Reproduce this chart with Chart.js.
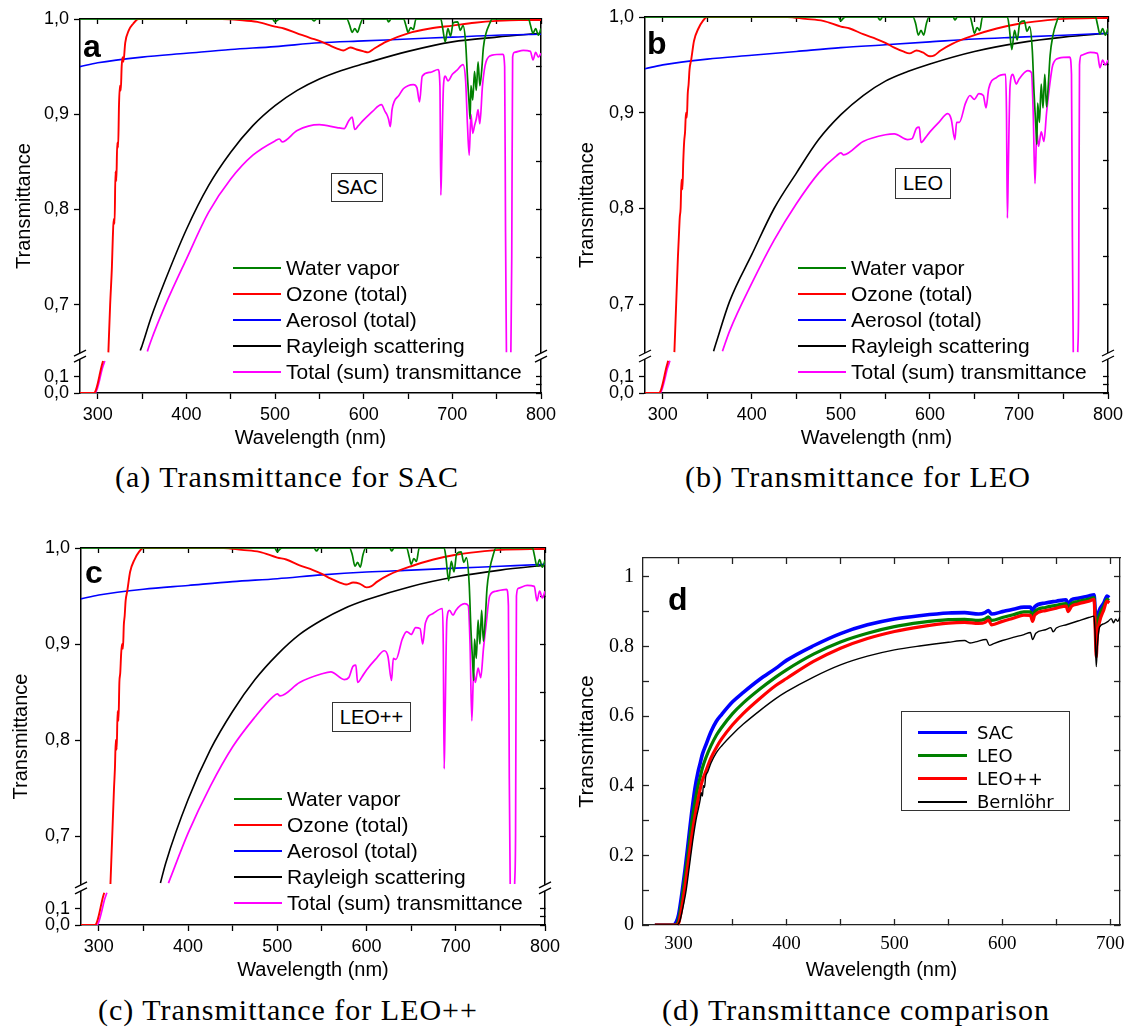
<!DOCTYPE html>
<html>
<head>
<meta charset="utf-8">
<script src="https://cdn.jsdelivr.net/npm/chart.js@4.4.1/dist/chart.umd.min.js"></script>
<style>
  html, body { margin: 0; padding: 0; background: #fff; overflow: hidden; }
  #page { position: relative; width: 1126px; height: 1030px; font-family: 'Liberation Sans', Arial, sans-serif; color: #000; }
  canvas { position: absolute; }
  .tag { position: absolute; font-weight: bold; font-size: 32px; line-height: 32px; }
  .box { position: absolute; border: 1px solid #333; font-size: 20px; text-align: center; box-sizing: border-box; background: #fff; }
  .legend { position: absolute; font-size: 21px; }
  .legend .row { display: flex; align-items: center; height: 26px; white-space: nowrap; }
  .legend .ln { display: inline-block; width: 48px; height: 2px; margin-right: 5px; }
  .dleg { position: absolute; border: 1px solid #333; box-sizing: border-box; font-family: 'DejaVu Sans', sans-serif; font-size: 18px; padding: 9px 0 0 16px; background: #fff; }
  .dleg .row { display: flex; align-items: center; height: 23px; white-space: nowrap; }
  .dleg .ln { display: inline-block; width: 49px; margin-right: 10px; }
  .cap { position: absolute; font-family: 'Liberation Serif', serif; font-size: 30px; letter-spacing: 1px; line-height: 34px; white-space: nowrap; transform: translateX(-50%); }
</style>
</head>
<body>
<div id="page">
  <canvas id="chartA" width="560" height="450" style="left:0px;top:0px"></canvas>
  <canvas id="chartB" width="566" height="450" style="left:560px;top:0px"></canvas>
  <canvas id="chartC" width="560" height="452" style="left:0px;top:530px"></canvas>
  <canvas id="chartD" width="566" height="452" style="left:560px;top:530px"></canvas>

  <div class="tag" style="left:83px;top:30px">a</div>
  <div class="tag" style="left:647px;top:27px">b</div>
  <div class="tag" style="left:85px;top:556px">c</div>
  <div class="tag" style="left:668px;top:583px">d</div>

  <div class="box" style="left:331px;top:173px;width:52px;height:29px;line-height:27px">SAC</div>
  <div class="box" style="left:895px;top:168px;width:56px;height:31px;line-height:29px">LEO</div>
  <div class="box" style="left:332px;top:702px;width:79px;height:30px;line-height:28px">LEO++</div>

  <div class="legend" id="legA" style="left:233px;top:255px"></div>
  <div class="legend" id="legB" style="left:798px;top:255px"></div>
  <div class="legend" id="legC" style="left:234px;top:786px"></div>
  <div class="dleg" id="legD" style="left:901px;top:711px;width:169px;height:100px"></div>

  <div class="cap" style="left:287px;top:460px">(a) Transmittance for SAC</div>
  <div class="cap" style="left:858px;top:460px">(b) Transmittance for LEO</div>
  <div class="cap" style="left:288px;top:993px">(c) Transmittance for LEO++</div>
  <div class="cap" style="left:856px;top:993px">(d) Transmittance comparison</div>
</div>
<script>
// ---- series: [wavelength nm, transmittance] ----

// panel a: SAC
const sacWater = [[280,1],[497,1],[500,0.997],[503,0.999],[506,1],[541,1],[544,0.998],[547,1],[581,1],[584,0.994],[587,0.986],[590,0.99],[593,0.986],[596,0.994],[599,1],[626,1],[628,0.997],[631,1],[645,1],[648,0.992],[650,0.986],[653,0.991],[656,0.989],[659,1],[687,1],[689,0.991],[692,0.976],[695,0.99],[698,0.982],[701,0.996],[706,0.997],[709,0.988],[712,0.993],[715,0.975],[717,0.94],[719,0.91],[720,0.895],[721,0.93],[723,0.915],[725,0.945],[727,0.925],[729,0.955],[731,0.93],[733,0.945],[735,0.97],[738,0.985],[742,0.995],[745,1],[786,1],[788,0.994],[791,0.985],[794,0.99],[797,0.983],[800,0.99]];
const sacOzone = [[280,0],[296,0],[298,0.02],[300,0.06],[302,0.11],[304,0.16],[306,0.2],[309,null],[312,0.65],[314,0.7],[316,0.74],[317,0.77],[318,0.79],[319,0.785],[320,0.84],[321,0.83],[322,0.87],[323,0.865],[324,0.91],[325,0.93],[326,0.925],[327,0.95],[328,0.96],[329,0.955],[331,0.975],[335,0.988],[340,0.995],[346,1],[440,1],[460,0.999],[480,0.997],[500,0.992],[510,0.99],[525,0.985],[540,0.98],[550,0.977],[560,0.973],[570,0.969],[577,0.967],[585,0.97],[592,0.968],[600,0.966],[605,0.965],[612,0.969],[625,0.976],[650,0.985],[675,0.99],[700,0.993],[725,0.996],[750,0.998],[775,0.999],[800,0.999]];
const sacAerosol = [[280,0.95],[300,0.954],[350,0.96],[400,0.964],[450,0.968],[500,0.971],[550,0.975],[600,0.977],[650,0.979],[700,0.981],[750,0.983],[800,0.984]];
const sacRayleigh = [[348,0.652],[350,0.657],[360,0.686],[375,0.723],[400,0.779],[425,0.825],[450,0.86],[475,0.888],[500,0.909],[525,0.925],[550,0.937],[575,0.946],[600,0.953],[650,0.966],[700,0.976],[750,0.981],[800,0.985]];
const sacTotal = [[280,0],[297,0],[299,0.02],[302,0.08],[305,0.15],[308,0.2],[310,null],[356,0.651],[360,0.662],[375,0.697],[400,0.748],[425,0.797],[450,0.832],[475,0.857],[500,0.872],[505,0.874],[508,0.871],[525,0.883],[550,0.889],[570,0.886],[578,0.885],[583,0.893],[587,0.897],[590,0.884],[594,0.888],[600,0.894],[610,0.903],[620,0.91],[624,0.903],[626,0.9],[628,0.895],[630,0.887],[632,0.905],[640,0.92],[645,0.927],[650,0.93],[656,0.931],[660,0.928],[663,0.913],[666,0.94],[675,0.944],[684,0.947],[686,0.93],[687,0.815],[688,0.85],[690,0.93],[692,0.94],[695,0.935],[700,0.942],[705,0.946],[712,0.952],[715,0.935],[717,0.89],[719,0.857],[721,0.9],[723,0.88],[725,0.888],[727,0.895],[729,0.905],[731,0.89],[734,0.93],[738,0.955],[745,0.962],[757,0.963],[759,0.95],[760,0.776],[761,0.65],[762,null],[765,null],[766,0.65],[767,0.75],[768,0.96],[770,0.965],[780,0.967],[788,0.966],[791,0.957],[794,0.965],[797,0.96],[800,0.964]];

// panel b: LEO
const leoWater = [[280,1],[497,1],[500,0.996],[503,0.999],[506,1],[541,1],[544,0.997],[547,1],[581,1],[584,0.993],[587,0.981],[590,0.986],[593,0.981],[596,0.993],[599,1],[626,1],[628,0.997],[631,1],[645,1],[648,0.99],[650,0.983],[653,0.989],[656,0.986],[659,1],[687,1],[689,0.99],[692,0.966],[695,0.986],[698,0.976],[701,0.994],[706,0.996],[709,0.985],[712,0.99],[715,0.965],[717,0.92],[719,0.885],[720,0.867],[721,0.91],[723,0.89],[725,0.93],[727,0.905],[729,0.94],[731,0.906],[733,0.93],[735,0.96],[738,0.98],[742,0.994],[745,1],[786,1],[788,0.993],[791,0.982],[794,0.988],[797,0.981],[800,0.988]];
const leoOzone = [[280,0],[296,0],[298,0.02],[300,0.06],[302,0.11],[304,0.16],[306,0.2],[309,null],[313,0.65],[315,0.7],[317,0.75],[318,0.77],[319,0.79],[320,0.8],[321,0.83],[322,0.82],[323,0.85],[324,0.87],[325,0.88],[326,0.9],[327,0.895],[328,0.92],[329,0.93],[330,0.945],[332,0.956],[335,0.975],[340,0.988],[345,0.996],[350,1],[440,1],[460,0.998],[480,0.996],[500,0.99],[510,0.988],[525,0.982],[540,0.977],[550,0.973],[560,0.968],[570,0.964],[577,0.962],[585,0.965],[592,0.963],[600,0.959],[605,0.96],[612,0.965],[625,0.972],[650,0.981],[675,0.988],[700,0.993],[725,0.996],[750,0.998],[800,0.999]];
const leoAerosol = [[280,0.946],[300,0.95],[350,0.956],[400,0.96],[450,0.964],[500,0.968],[550,0.971],[600,0.974],[650,0.977],[700,0.979],[750,0.981],[800,0.983]];
const leoRayleigh = [[357,0.651],[360,0.66],[375,0.703],[400,0.752],[425,0.8],[450,0.837],[475,0.872],[500,0.898],[525,0.918],[550,0.933],[575,0.943],[600,0.951],[650,0.964],[700,0.973],[750,0.979],[800,0.983]];
const leoTotal = [[280,0],[297,0],[299,0.02],[302,0.08],[305,0.15],[308,0.2],[310,null],[367,0.651],[375,0.672],[400,0.722],[425,0.767],[450,0.805],[475,0.837],[495,0.855],[500,0.858],[503,0.856],[525,0.87],[550,0.877],[560,0.878],[575,0.872],[580,0.873],[585,0.884],[588,0.885],[590,0.869],[595,0.874],[600,0.88],[610,0.89],[620,0.899],[624,0.893],[628,0.872],[630,0.89],[633,0.89],[640,0.91],[645,0.918],[650,0.914],[655,0.92],[660,0.918],[663,0.905],[666,0.925],[675,0.937],[685,0.94],[686,0.9],[687,0.79],[688,0.84],[690,0.928],[693,0.94],[697,0.93],[700,0.935],[710,0.944],[714,0.942],[716,0.9],[718,0.826],[720,0.88],[722,0.865],[725,0.88],[728,0.87],[731,0.9],[734,0.925],[738,0.95],[745,0.957],[757,0.958],[759,0.94],[760,0.77],[761,0.65],[762,null],[765,null],[766,0.65],[767,0.7],[768,0.95],[770,0.96],[780,0.963],[788,0.962],[791,0.947],[794,0.955],[797,0.95],[800,0.955]];

// panel c: LEO++
const pppWater = [[280,1],[497,1],[500,0.996],[503,0.999],[506,1],[541,1],[544,0.997],[547,1],[581,1],[584,0.993],[587,0.981],[590,0.985],[593,0.98],[596,0.993],[599,1],[626,1],[628,0.997],[631,1],[645,1],[648,0.99],[650,0.983],[653,0.989],[656,0.986],[659,1],[687,1],[689,0.99],[692,0.966],[695,0.986],[698,0.975],[701,0.994],[706,0.996],[709,0.985],[712,0.99],[715,0.963],[717,0.915],[719,0.88],[720,0.862],[721,0.905],[723,0.885],[725,0.925],[727,0.9],[729,0.935],[731,0.903],[733,0.925],[735,0.958],[738,0.978],[742,0.993],[745,1],[786,1],[788,0.993],[791,0.981],[794,0.988],[797,0.98],[800,0.987]];
const pppOzone = [[280,0],[296,0],[298,0.02],[300,0.06],[302,0.11],[304,0.16],[306,0.2],[309,null],[313,0.65],[315,0.7],[317,0.75],[318,0.77],[319,0.8],[320,0.79],[321,0.83],[322,0.82],[323,0.86],[324,0.87],[325,0.89],[326,0.9],[327,0.895],[328,0.92],[329,0.93],[330,0.945],[332,0.956],[335,0.975],[340,0.988],[345,0.996],[350,1],[440,1],[460,0.998],[480,0.996],[500,0.99],[510,0.988],[525,0.982],[540,0.977],[550,0.973],[560,0.968],[570,0.964],[577,0.962],[585,0.964],[592,0.963],[600,0.959],[605,0.96],[612,0.965],[625,0.972],[650,0.981],[675,0.988],[700,0.993],[725,0.996],[750,0.998],[800,0.999]];
const pppAerosol = [[280,0.947],[300,0.951],[350,0.957],[400,0.961],[450,0.965],[500,0.968],[550,0.972],[600,0.975],[650,0.977],[700,0.979],[750,0.981],[800,0.983]];
const pppRayleigh = [[369,0.651],[375,0.672],[400,0.738],[425,0.79],[450,0.83],[475,0.863],[500,0.889],[525,0.91],[550,0.925],[575,0.937],[600,0.946],[650,0.96],[700,0.97],[750,0.977],[800,0.982]];
const pppTotal = [[280,0],[298,0],[300,0.02],[303,0.08],[306,0.15],[309,0.2],[311,null],[378,0.651],[400,0.703],[425,0.752],[450,0.793],[475,0.824],[495,0.845],[500,0.848],[503,0.846],[525,0.86],[550,0.869],[560,0.871],[575,0.863],[580,0.865],[585,0.877],[588,0.878],[590,0.86],[595,0.866],[600,0.873],[610,0.884],[620,0.893],[624,0.887],[628,0.862],[630,0.885],[633,0.884],[640,0.905],[645,0.913],[650,0.91],[655,0.917],[660,0.916],[663,0.9],[666,0.922],[675,0.932],[685,0.937],[686,0.9],[687,0.77],[688,0.82],[690,0.925],[693,0.935],[697,0.93],[700,0.935],[710,0.942],[714,0.94],[716,0.9],[718,0.82],[720,0.87],[722,0.86],[725,0.875],[728,0.865],[731,0.895],[734,0.92],[738,0.95],[745,0.955],[757,0.957],[759,0.94],[760,0.76],[761,0.65],[762,null],[765,null],[766,0.65],[767,0.7],[768,0.95],[770,0.958],[780,0.961],[788,0.96],[791,0.945],[794,0.955],[797,0.948],[800,0.955]];

// panel d: comparison
const cmpSac = [[278,0],[295,0],[298,0.01],[300,0.03],[303,0.09],[306,0.16],[309,0.24],[312,0.32],[315,0.39],[318,0.44],[320,0.465],[322,0.49],[325,0.515],[330,0.555],[335,0.585],[340,0.605],[350,0.641],[360,0.668],[375,0.705],[390,0.737],[400,0.76],[425,0.802],[450,0.837],[475,0.862],[500,0.879],[525,0.889],[550,0.896],[565,0.897],[578,0.893],[584,0.897],[587,0.903],[590,0.893],[600,0.9],[610,0.907],[620,0.913],[626,0.913],[628,0.902],[630,0.914],[640,0.925],[650,0.93],[659,0.934],[661,0.922],[664,0.934],[670,0.938],[680,0.945],[685,0.948],[686,0.9],[687,0.84],[688,0.88],[690,0.905],[694,0.925],[697,0.945],[699,0.94]];
const cmpLeo = [[278,0],[297,0],[300,0.015],[303,0.07],[306,0.14],[309,0.21],[312,0.29],[315,0.35],[318,0.4],[320,0.425],[322,0.45],[325,0.478],[330,0.515],[335,0.545],[340,0.568],[350,0.607],[360,0.638],[375,0.677],[390,0.712],[400,0.733],[425,0.778],[450,0.813],[475,0.838],[500,0.857],[525,0.869],[550,0.877],[565,0.878],[578,0.875],[584,0.879],[587,0.885],[590,0.875],[600,0.883],[610,0.891],[620,0.899],[626,0.899],[628,0.887],[630,0.9],[640,0.912],[650,0.918],[659,0.923],[661,0.911],[664,0.923],[670,0.929],[680,0.936],[685,0.94],[686,0.88],[687,0.81],[688,0.86],[690,0.89],[694,0.915],[697,0.935],[699,0.932]];
const cmpLeoPP = [[278,0],[298,0],[300,0.005],[303,0.05],[306,0.11],[309,0.18],[312,0.25],[315,0.31],[318,0.36],[320,0.39],[322,0.415],[325,0.44],[330,0.48],[335,0.51],[340,0.535],[350,0.575],[360,0.608],[375,0.65],[390,0.688],[400,0.708],[425,0.757],[450,0.795],[475,0.823],[500,0.843],[525,0.857],[550,0.867],[565,0.869],[578,0.866],[584,0.869],[587,0.876],[590,0.862],[600,0.872],[610,0.881],[620,0.89],[626,0.889],[628,0.872],[630,0.89],[640,0.903],[650,0.91],[659,0.916],[661,0.9],[664,0.915],[670,0.922],[680,0.93],[685,0.935],[686,0.85],[687,0.77],[688,0.83],[690,0.87],[694,0.905],[697,0.93],[699,0.925]];
const cmpBernlohr = [[278,0],[298,0],[301,0.01],[304,0.05],[307,0.1],[310,0.17],[313,0.24],[316,0.3],[318,0.33],[320,0.36],[321,0.38],[322,0.37],[323,0.4],[324,0.395],[325,0.425],[327,0.44],[330,0.465],[335,0.495],[340,0.515],[350,0.548],[360,0.577],[375,0.615],[390,0.65],[400,0.67],[425,0.712],[450,0.747],[475,0.772],[500,0.79],[525,0.802],[550,0.812],[565,0.817],[570,0.81],[575,0.813],[585,0.82],[588,0.803],[592,0.808],[600,0.817],[610,0.826],[620,0.834],[626,0.84],[628,0.82],[631,0.838],[640,0.848],[645,0.854],[647,0.842],[650,0.853],[660,0.863],[670,0.873],[680,0.883],[685,0.887],[686,0.83],[687,0.742],[688,0.8],[690,0.855],[694,0.865],[698,0.872],[701,0.88],[703,0.868],[705,0.878],[707,0.872],[709,0.885]];

// ---- ticks ----
const xTicksABC = [300, 350, 400, 450, 500, 550, 600, 650, 700, 750, 800];
const yTicksABC = [0, 0.1, 0.7, 0.8, 0.9, 1.0];
const yTickLabelsABC = ['0,0', '0,1', '0,7', '0,8', '0,9', '1,0'];
const yMinorABC = [0, 0.05, 0.1, 0.7, 0.75, 0.8, 0.85, 0.9, 0.95, 1.0];
const xTicksD = [300, 350, 400, 450, 500, 550, 600, 650, 700];
const yTicksD = [0, 0.1, 0.2, 0.3, 0.4, 0.5, 0.6, 0.7, 0.8, 0.9, 1.0];
const yTickLabelsD = ['0', '', '0.2', '', '0.4', '', '0.6', '', '0.8', '', '1'];

const legendNames = ['Water vapor', 'Ozone (total)', 'Aerosol (total)', 'Rayleigh scattering', 'Total (sum) transmittance'];
const legendColors = ['#008000', '#ff0000', '#0000ff', '#000000', '#ff00ff'];
const cmpNames = ['SAC', 'LEO', 'LEO++', 'Bernlöhr'];
const cmpColors = ['#0000ff', '#008000', '#ff0000', '#000000'];

const SANS = "'Liberation Sans', Arial, sans-serif";
const SERIF = "'Liberation Serif', 'Times New Roman', serif";

// broken y axis: 0..0.254 squeezed under the break, 0.65..1 at full scale
const BREAK_LO = 0.254, BREAK_HI = 0.65, SQUEEZE = 0.168;
function toAxis(v) {
  if (v === null) return null;
  if (v >= BREAK_HI) return v;
  if (v <= BREAK_LO) return BREAK_HI - (BREAK_LO - v) * SQUEEZE;
  return null;
}
const AXIS_BOTTOM = toAxis(0);

function fixSize(size) {
  return s => {
    if (s.isHorizontal()) s.height = size; else s.width = size;
    s.paddingLeft = s.paddingRight = s.paddingTop = s.paddingBottom = 0;
  };
}
function setTicks(list, map) {
  return s => { s.ticks = list.map(v => ({value: map ? map(v) : v})); };
}

const breakMarks = {
  id: 'breakMarks',
  afterDraw(chart) {
    const ctx = chart.ctx;
    const y = chart.scales.y.getPixelForValue(BREAK_HI - 0.004);
    [chart.chartArea.left, chart.chartArea.right].forEach(x => {
      ctx.save();
      ctx.fillStyle = '#fff';
      ctx.fillRect(x - 2, y - 3, 4, 6);
      ctx.strokeStyle = '#000';
      ctx.lineWidth = 1.3;
      [-3, 3].forEach(off => {
        ctx.beginPath();
        ctx.moveTo(x - 6, y + off + 3);
        ctx.lineTo(x + 6, y + off - 3);
        ctx.stroke();
      });
      ctx.restore();
    });
  }
};

function breakChart(id, series, g) {
  const frame = {display: true, color: '#000', width: 1.5};
  const tickFont = {family: SANS, size: 18};
  const widths = [1.7, 1.9, 1.6, 1.6, 1.7];
  const sets = series.map((pts, i) => ({
    data: pts.map(p => ({x: p[0], y: toAxis(p[1])})),
    borderColor: legendColors[i], borderWidth: widths[i],
    pointRadius: 0, spanGaps: false, fill: false,
    cubicInterpolationMode: 'monotone'
  }));
  new Chart(document.getElementById(id), {
    type: 'line',
    data: {datasets: sets},
    options: {
      responsive: false, animation: false, devicePixelRatio: 1, events: [],
      layout: {padding: 0},
      plugins: {legend: {display: false}, tooltip: {enabled: false}},
      scales: {
        x: {
          type: 'linear', position: 'bottom', min: 280, max: 800,
          afterBuildTicks: setTicks(xTicksABC), afterFit: fixSize(g.bottom),
          grid: {drawOnChartArea: false, tickLength: 6, color: '#000', tickWidth: 1.3},
          border: frame,
          ticks: {autoSkip: false, maxRotation: 0, padding: 5, color: '#000', font: tickFont,
                  callback: v => (v % 100 === 0 ? String(v) : '')},
          title: {display: true, text: 'Wavelength (nm)', color: '#000', font: {family: SANS, size: 20}, padding: 0}
        },
        x2: {
          type: 'linear', position: 'top', min: 280, max: 800,
          afterBuildTicks: setTicks(xTicksABC), afterFit: fixSize(g.top),
          grid: {drawOnChartArea: false, tickLength: -5, color: '#000', tickWidth: 1.3},
          border: frame, ticks: {display: false}
        },
        y: {
          type: 'linear', position: 'left', min: AXIS_BOTTOM, max: 1,
          afterBuildTicks: setTicks(yTicksABC, toAxis), afterFit: fixSize(g.left),
          grid: {drawOnChartArea: false, tickLength: 6, color: '#000', tickWidth: 1.3},
          border: frame,
          ticks: {autoSkip: false, padding: 5, color: '#000', font: tickFont,
                  callback: (v, i) => yTickLabelsABC[i]},
          title: {display: true, text: 'Transmittance', color: '#000', font: {family: SANS, size: 20},
                  padding: {top: g.titlePad, bottom: 0}}
        },
        y2: {
          type: 'linear', position: 'right', min: AXIS_BOTTOM, max: 1,
          afterBuildTicks: setTicks(yMinorABC, toAxis), afterFit: fixSize(g.right),
          grid: {drawOnChartArea: false, tickLength: -5, color: '#000', tickWidth: 1.3},
          border: frame, ticks: {display: false}
        }
      }
    },
    plugins: [breakMarks]
  });
}

function compareChart(id, series) {
  const frame = {display: true, color: '#222', width: 1.3};
  const widths = [3.6, 3.2, 3.2, 1.4];
  // black drawn on top, blue at the bottom
  const sets = series.map((pts, i) => ({
    data: pts.map(p => ({x: p[0], y: p[1]})),
    borderColor: cmpColors[i], borderWidth: widths[i],
    pointRadius: 0, fill: false, order: 3 - i,
    cubicInterpolationMode: 'monotone'
  }));
  new Chart(document.getElementById(id), {
    type: 'line',
    data: {datasets: sets},
    options: {
      responsive: false, animation: false, devicePixelRatio: 1, events: [],
      layout: {padding: 0},
      plugins: {legend: {display: false}, tooltip: {enabled: false}},
      scales: {
        x: {
          type: 'linear', position: 'bottom', min: 267, max: 709,
          afterBuildTicks: setTicks(xTicksD), afterFit: fixSize(57),
          grid: {drawOnChartArea: false, tickLength: -6, color: '#222', tickWidth: 1.3},
          border: frame,
          ticks: {autoSkip: false, maxRotation: 0, padding: 14, color: '#000', font: {family: SERIF, size: 19},
                  callback: v => (v % 100 === 0 ? String(v) : '')},
          title: {display: true, text: 'Wavelength (nm)', color: '#000', font: {family: SANS, size: 20}, padding: 0}
        },
        x2: {
          type: 'linear', position: 'top', min: 267, max: 709,
          afterBuildTicks: setTicks(xTicksD), afterFit: fixSize(28),
          grid: {drawOnChartArea: false, tickLength: -6, color: '#222', tickWidth: 1.3},
          border: frame, ticks: {display: false}
        },
        y: {
          type: 'linear', position: 'left', min: 0, max: 1.054,
          afterBuildTicks: setTicks(yTicksD), afterFit: fixSize(83),
          grid: {drawOnChartArea: false, tickLength: -6, color: '#222', tickWidth: 1.3},
          border: frame,
          ticks: {autoSkip: false, padding: 15, color: '#000', font: {family: SERIF, size: 20},
                  callback: (v, i) => yTickLabelsD[i]},
          title: {display: true, text: 'Transmittance', color: '#000', font: {family: SANS, size: 21},
                  padding: {top: 15, bottom: 0}}
        },
        y2: {
          type: 'linear', position: 'right', min: 0, max: 1.054,
          afterBuildTicks: setTicks(yTicksD), afterFit: fixSize(6),
          grid: {drawOnChartArea: false, tickLength: -6, color: '#222', tickWidth: 1.3},
          border: frame, ticks: {display: false}
        }
      }
    }
  });
}

breakChart('chartA', [sacWater, sacOzone, sacAerosol, sacRayleigh, sacTotal],
  {left: 80, right: 19, top: 19, bottom: 57, titlePad: 12});
breakChart('chartB', [leoWater, leoOzone, leoAerosol, leoRayleigh, leoTotal],
  {left: 85, right: 18, top: 17, bottom: 57, titlePad: 15});
breakChart('chartC', [pppWater, pppOzone, pppAerosol, pppRayleigh, pppTotal],
  {left: 81, right: 15, top: 18, bottom: 57, titlePad: 9});
compareChart('chartD', [cmpSac, cmpLeo, cmpLeoPP, cmpBernlohr]);

// legends (html, real text)
function fillLegend(elId, names, colors, thick) {
  const el = document.getElementById(elId);
  names.forEach((n, i) => {
    const row = document.createElement('div');
    row.className = 'row';
    const ln = document.createElement('span');
    ln.className = 'ln';
    ln.style.background = colors[i];
    if (thick) ln.style.height = (i === 3 ? 2 : 3) + 'px';
    row.appendChild(ln);
    row.appendChild(document.createTextNode(n));
    el.appendChild(row);
  });
}
fillLegend('legA', legendNames, legendColors, false);
fillLegend('legB', legendNames, legendColors, false);
fillLegend('legC', legendNames, legendColors, false);
fillLegend('legD', cmpNames, cmpColors, true);
</script>
</body>
</html>
